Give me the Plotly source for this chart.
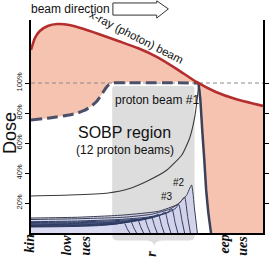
import plotly.graph_objects as go

# ---------------- data (depth in arbitrary units 0-100, dose in %) ----------------
xray_depth = [0, 1.7, 3.8, 7.2, 11.4, 16.5, 22.8, 29.1, 37.6, 46.0, 54.4, 62.9, 71.3, 79.7, 88.2, 100]
xray_dose = [122, 130, 134.7, 138, 139.3, 138.7, 136, 132.7, 128, 123.3, 117.3, 109.3, 100.7, 94, 89.3, 84.7]

sobp_depth = [0, 8, 16.5, 20, 23, 26, 28.5, 30.5, 32.2, 33.5, 35, 72.2]
sobp_dose = [75.3, 76.7, 78.7, 80, 81.7, 84.5, 88, 92.5, 96.5, 98.8, 100, 100]
falloff_depth = [72.2, 73.0, 73.8, 74.7, 75.5, 76.4, 77.6]
falloff_dose = [100, 88.7, 68.7, 48.7, 28.7, 14, 0]

p1_depth = [0, 16.5, 33.3, 41.8, 50.2, 58.6, 65, 68.4, 70.5, 71.7, 72.4,
            73.0, 73.8, 74.7, 75.5, 76.4, 77.6]
p1_dose = [24.7, 25.3, 26.7, 29.3, 34.7, 42, 52, 63.3, 76.7, 90, 100,
           88.7, 68.7, 48.7, 28.7, 14, 0]

bragg_depths = [
    [0, 20, 40, 55, 63, 67, 69.2, 70.5, 71.7],
    [0, 20, 40, 52, 60, 64, 66.2, 67.5, 68.7],
    [0, 20, 38, 50, 58, 62, 63.7, 65, 66.2],
    [0, 20, 36, 48, 55, 59, 60.8, 62.1, 63.3],
    [0, 20, 35, 45, 52, 56, 57.8, 59.1, 60.3],
    [0, 18, 32, 42, 49, 53, 54.9, 56.2, 57.4],
    [0, 18, 30, 40, 46, 50, 51.9, 53.2, 54.4],
    [0, 16, 28, 37, 43, 47, 48.9, 50.2, 51.4],
    [0, 15, 26, 34, 40, 44, 46, 47.3, 48.5],
    [0, 14, 24, 31, 37, 41, 43, 44.3, 45.5],
    [0, 13, 22, 29, 34, 38, 40.1, 41.4, 42.6],
]
bragg_doses = [
    [10, 10.5, 12, 14.5, 19, 25, 32, 16, 0],
    [9, 9.5, 10.5, 12.5, 16, 20, 24, 11, 0],
    [7.5, 8, 9, 10.5, 13, 16, 19, 9, 0],
    [7, 7.4, 8.2, 9.5, 11.5, 14, 16, 7, 0],
    [6.5, 6.9, 7.5, 8.6, 10, 12.2, 14, 6, 0],
    [6, 6.3, 6.9, 7.8, 9, 11, 12.5, 5.5, 0],
    [5.5, 5.8, 6.3, 7.1, 8.2, 9.8, 11, 5, 0],
    [5, 5.3, 5.8, 6.5, 7.5, 8.9, 10, 4.5, 0],
    [4.7, 4.9, 5.3, 5.9, 6.8, 8, 9, 4, 0],
    [4.3, 4.5, 4.9, 5.4, 6.1, 7.2, 8, 3.5, 0],
    [4, 4.2, 4.5, 4.9, 5.5, 6.3, 7, 3, 0],
]

y_tick_vals = [20, 40, 60, 80, 100]
y_tick_text = ["20%", "40%", "60%", "80%", "100%"]

sobp_region = [35.0, 70.5]
bottom_labels = ["kin", "low", "ues", "r", "eep", "ues"]
bottom_label_x = [-0.004, 0.155, 0.235, 0.521, 0.836, 0.908]
bottom_label_top = [0.004, 0.004, -0.005, -0.075, 0.004, -0.005]

# ---------------- figure ----------------
fig = go.Figure()

# base for salmon fill (SOBP envelope down to 0 beyond falloff)
fig.add_trace(go.Scatter(
    x=sobp_depth + falloff_depth[1:] + [100], y=sobp_dose + falloff_dose[1:] + [0],
    mode="lines", line=dict(width=0, color="rgba(0,0,0,0)", shape="spline", smoothing=0.3),
    hoverinfo="skip", showlegend=False))
fig.add_trace(go.Scatter(
    x=xray_depth, y=xray_dose, mode="lines", fill="tonexty", fillcolor="#f6c3b1",
    line=dict(width=0, color="rgba(0,0,0,0)", shape="spline", smoothing=0.6),
    hoverinfo="skip", showlegend=False))

# 100% reference line
fig.add_trace(go.Scatter(x=[0, 100], y=[100, 100], mode="lines",
                         line=dict(color="#8a8a8a", width=1, dash="4px,3px"),
                         hoverinfo="skip", showlegend=False))

# fill under proton #2
fig.add_trace(go.Scatter(x=bragg_depths[0], y=bragg_doses[0], mode="lines", fill="tozeroy",
                         fillcolor="rgba(205,207,238,0.75)",
                         line=dict(width=0, shape="spline", smoothing=0.5),
                         hoverinfo="skip", showlegend=False))

# Bragg curves #2..#12
for i, (d, v) in enumerate(zip(bragg_depths, bragg_doses)):
    col = "#3a3f52" if i < 2 else "#2c3a62"
    fig.add_trace(go.Scatter(x=d, y=v, mode="lines",
                             line=dict(color=col, width=1, shape="spline", smoothing=0.5),
                             hoverinfo="skip", showlegend=False))

# proton #1
fig.add_trace(go.Scatter(x=p1_depth, y=p1_dose, mode="lines",
                         line=dict(color="#3a3a3a", width=1.1, shape="spline", smoothing=0.5),
                         hoverinfo="skip", showlegend=False))

# SOBP dashed
fig.add_trace(go.Scatter(x=sobp_depth, y=sobp_dose, mode="lines",
                         line=dict(color="#4b5068", width=3, dash="11px,5px", shape="spline", smoothing=0.3),
                         hoverinfo="skip", showlegend=False))
fig.add_trace(go.Scatter(x=falloff_depth, y=falloff_dose, mode="lines",
                         line=dict(color="#3c4158", width=2.5, shape="spline", smoothing=0.4),
                         hoverinfo="skip", showlegend=False))

# x-ray line
fig.add_trace(go.Scatter(x=xray_depth, y=xray_dose, mode="lines",
                         line=dict(color="#b32e2c", width=2.6, shape="spline", smoothing=0.6),
                         hoverinfo="skip", showlegend=False))

a, b = sobp_region
mid = (a + b) / 2 + 0.4
gray_path = (f"M {a},0.675 Q {a},0.69 {a+1.5},0.69 L {b-1.5},0.69 Q {b},0.69 {b},0.675 "
             f"L {b},-0.015 Q {b},-0.035 {b-3},-0.035 L {mid+4},-0.035 Q {mid},-0.035 {mid},-0.062 "
             f"Q {mid},-0.035 {mid-4},-0.035 L {a+3},-0.035 Q {a},-0.035 {a},-0.015 Z")

shapes = [
    dict(type="path", xref="x", yref="paper", path=gray_path, fillcolor="#dddddd",
         line=dict(width=0), layer="below"),
    # beam direction arrow (outline)
    dict(type="path", xref="paper", yref="paper",
         path="M 0.353,1.023 L 0.542,1.023 L 0.542,1.009 L 0.592,1.052 L 0.542,1.090 L 0.542,1.080 L 0.353,1.080 Z",
         line=dict(color="#333333", width=1), fillcolor="white"),
]

annotations = [
    dict(text="beam direction", xref="paper", yref="paper", x=-0.008, y=1.052,
         xanchor="left", yanchor="middle", showarrow=False,
         font=dict(family="Liberation Sans, Arial", size=12, color="#111")),
    dict(text="x-ray (photon) beam", xref="x", yref="y", x=45.5, y=131, textangle=27,
         xanchor="center", yanchor="middle", showarrow=False,
         font=dict(family="Liberation Sans, Arial", size=11.5, color="#111")),
    dict(text="proton beam #1", xref="x", yref="y", x=54.2, y=88.7,
         xanchor="center", yanchor="middle", showarrow=False,
         font=dict(family="Liberation Sans, Arial", size=12, color="#111")),
    dict(text="SOBP region", xref="x", yref="y", x=40.3, y=66.7,
         xanchor="center", yanchor="middle", showarrow=False,
         font=dict(family="Liberation Sans, Arial", size=16, color="#111")),
    dict(text="(12 proton beams)", xref="x", yref="y", x=40.3, y=55.3,
         xanchor="center", yanchor="middle", showarrow=False,
         font=dict(family="Liberation Sans, Arial", size=12, color="#111")),
    dict(text="#2", xref="x", yref="y", x=63.8, y=33.5,
         xanchor="center", yanchor="middle", showarrow=False,
         font=dict(family="Liberation Sans, Arial", size=10, color="#111")),
    dict(text="#3", xref="x", yref="y", x=58.8, y=24.5,
         xanchor="center", yanchor="middle", showarrow=False,
         font=dict(family="Liberation Sans, Arial", size=10, color="#111")),
    dict(text="Dose", xref="paper", yref="paper", x=-0.09, y=0.47, textangle=-90,
         xanchor="center", yanchor="middle", showarrow=False,
         font=dict(family="Liberation Sans, Arial", size=18, color="#111")),
]
for t, xp, yt in zip(bottom_labels, bottom_label_x, bottom_label_top):
    annotations.append(dict(text=f"<b><i>{t}</i></b>", xref="paper", yref="paper", x=xp, y=yt,
                            textangle=-90, xanchor="center", yanchor="top", showarrow=False,
                            font=dict(family="Liberation Serif, Times New Roman", size=14, color="#111")))

fig.update_layout(
    width=273, height=261,
    margin=dict(l=31, r=4, t=20, b=28),
    paper_bgcolor="white", plot_bgcolor="white",
    showlegend=False,
    shapes=shapes, annotations=annotations,
    xaxis=dict(range=[0, 100], showgrid=False, zeroline=False, showticklabels=False,
               ticks="", showline=True, linecolor="black", linewidth=1.5, mirror=False),
    yaxis=dict(range=[0, 142], showgrid=False, zeroline=False, tickvals=y_tick_vals,
               ticktext=y_tick_text, tickangle=-90, ticks="outside", ticklen=4,
               tickcolor="black", tickwidth=1.3,
               tickfont=dict(family="Liberation Sans, Arial", size=7.5, color="#111"),
               showline=True, linecolor="black", linewidth=1.5, mirror="ticks"),
)

fig.write_html("out.html")
